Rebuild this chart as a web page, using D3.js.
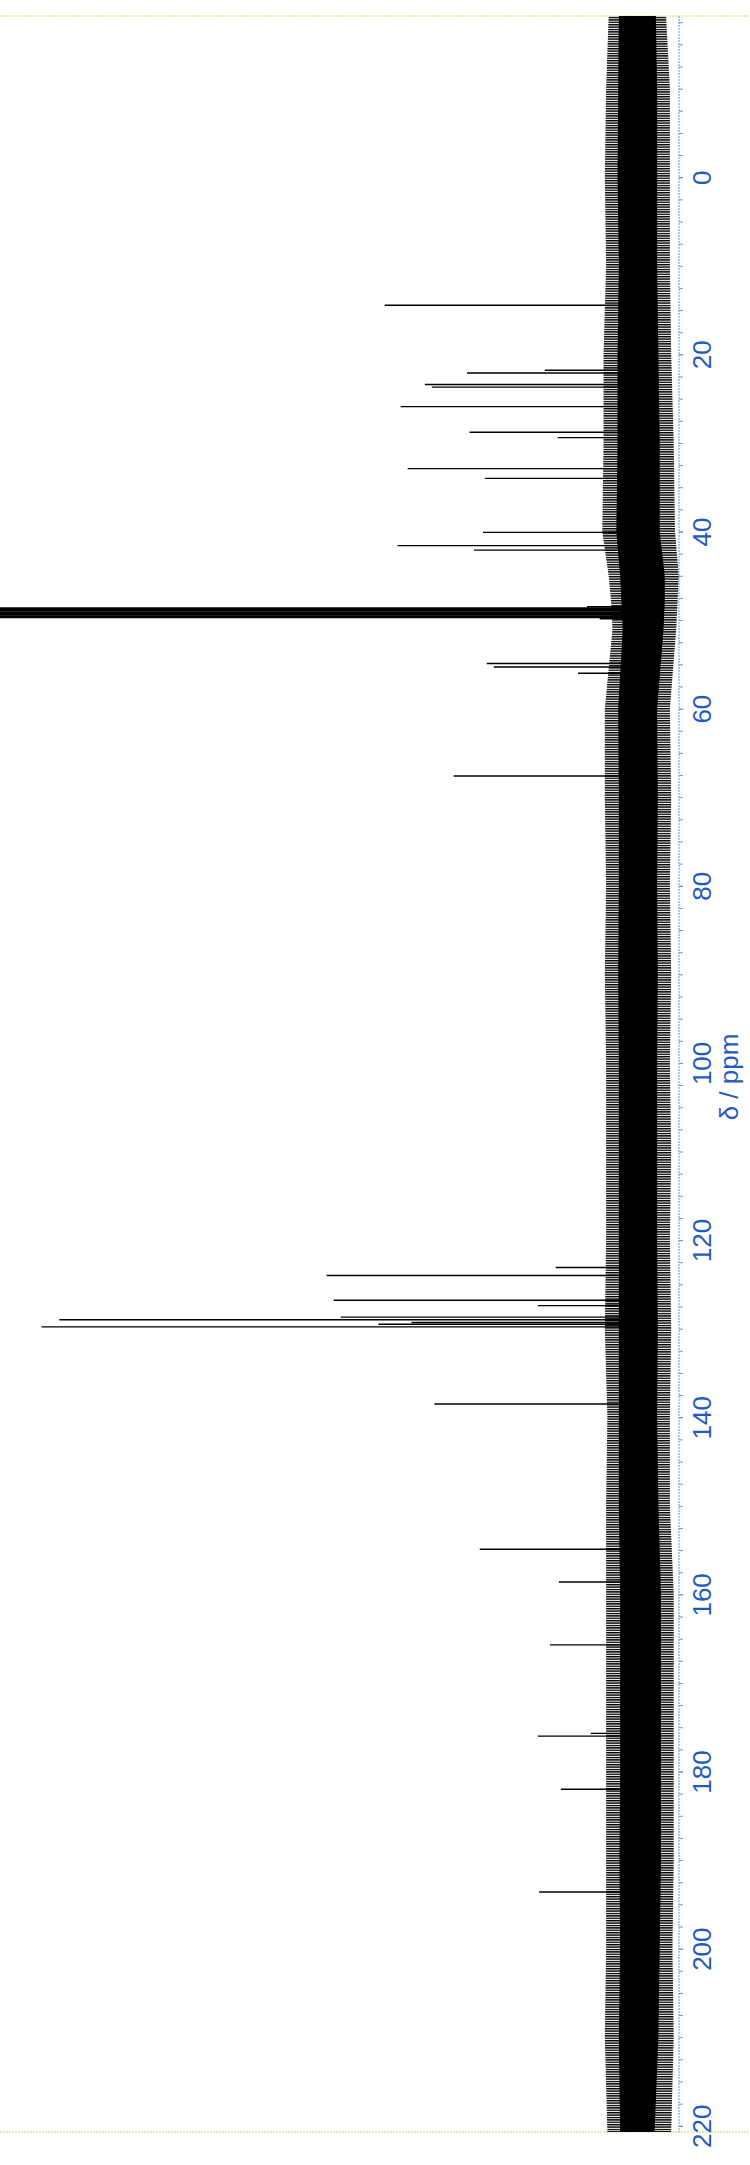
<!DOCTYPE html>
<html>
<head>
<meta charset="utf-8">
<script src="https://cdn.jsdelivr.net/npm/d3@7"></script>
<style>
html,body{margin:0;padding:0;background:#fff;}
svg{display:block;}
</style>
</head>
<body>
<div id="chart"></div>
<script>
// ---- data (chemical shift in ppm, relative intensity) ----
const peakPpm = [14.45, 21.8, 22.1, 23.4, 23.7, 25.9, 28.8, 29.4, 32.9, 34.0, 40.1, 41.6, 42.1,
  54.9, 55.3, 56.0, 67.6, 123.1, 124.0, 126.8, 127.4, 128.7, 129.0, 129.3, 129.5, 129.8,
  138.5, 154.9, 158.6, 165.7, 175.7, 176.0, 182.0, 193.6];
const peakInt = [39.7, 14.6, 26.8, 33.4, 32.3, 37.2, 26.4, 12.6, 36.1, 24.0, 24.3, 37.7, 25.7,
  23.7, 22.6, 9.4, 28.9, 12.9, 48.8, 47.7, 15.7, 46.6, 90.7, 35.5, 40.7, 93.5,
  31.9, 24.8, 12.4, 13.8, 7.4, 15.7, 12.1, 15.5];
// solvent (CD3OD) multiplet, off scale
const solventPpm = [48.5, 48.65, 48.8, 48.95, 49.1, 49.25, 49.4, 49.55, 49.7, 49.85];
const solventInt = [8.0, 120, 120, 120, 120, 120, 120, 120, 120, 6.0];
// noise band envelope
const noisePpm   = [-18.2, -10, 0, 10, 20, 30, 40, 45, 48, 51, 60, 70, 80, 90, 100, 110, 120, 130, 140, 150, 160, 170, 180, 190, 200, 210, 220.7];
const outerLeft  = [4.6, 5.0, 5.2, 5.0, 5.4, 5.4, 5.6, 4.6, 4.2, 4.0, 5.2, 5.2, 5.0, 5.2, 5.0, 5.0, 5.0, 5.2, 4.8, 5.0, 5.0, 5.0, 5.0, 5.0, 5.0, 5.2, 4.8];
const outerRight = [-4.4, -5.0, -5.0, -5.0, -5.2, -5.6, -5.8, -6.4, -6.2, -6.0, -5.0, -5.2, -5.0, -5.2, -5.0, -5.2, -5.0, -5.2, -5.0, -5.0, -5.6, -5.6, -5.6, -5.6, -5.4, -5.6, -5.2];
const coreLeft   = [3.0, 3.1, 3.2, 3.0, 3.2, 3.2, 3.4, 2.8, 2.6, 2.4, 3.1, 3.0, 3.0, 3.1, 3.0, 3.0, 3.0, 3.0, 3.0, 3.0, 2.8, 2.8, 2.8, 2.9, 2.8, 3.0, 2.8];
const coreRight  = [-2.8, -3.0, -3.0, -3.0, -3.2, -3.4, -3.4, -4.2, -4.2, -4.0, -3.0, -3.1, -3.0, -3.1, -3.0, -3.0, -3.0, -3.1, -3.0, -3.2, -3.6, -3.6, -3.6, -3.6, -3.4, -3.2, -2.6];
const majorTicks = [0, 20, 40, 60, 80, 100, 120, 140, 160, 180, 200, 220];
const axisTitle = "δ / ppm";

// ---- layout ----
const W = 750, H = 2165;
const plotTop = 16, plotBottom = 2132;
const axisX = 679;
const blue = "#1f5bbf";

const svg = d3.select("#chart").append("svg").attr("width", W).attr("height", H);
svg.append("rect").attr("width", W).attr("height", H).attr("fill", "#fff");

const defs = svg.append("defs");
defs.append("clipPath").attr("id", "clip").append("rect")
  .attr("x", 0).attr("y", plotTop).attr("width", axisX).attr("height", plotBottom - plotTop);
const pat = defs.append("pattern").attr("id", "hatch")
  .attr("width", 6).attr("height", 2.4).attr("patternUnits", "userSpaceOnUse");
pat.append("rect").attr("width", 6).attr("height", 1.4).attr("fill", "#000");

const y = d3.scaleLinear().domain([-18.2, 220.7]).range([plotTop, plotBottom]);
const x = d3.scaleLinear().domain([0, 100]).range([638, 0]);

// frame lines (top & bottom)
[plotTop, plotBottom].forEach(v => {
  svg.append("line").attr("x1", 0).attr("x2", W).attr("y1", v).attr("y2", v)
    .attr("stroke", "#c9df5e").attr("stroke-width", 1).attr("stroke-dasharray", "2,1");
});

const g = svg.append("g").attr("clip-path", "url(#clip)");

const noise = noisePpm.map((p, i) => ({p, ol: outerLeft[i], or: outerRight[i], cl: coreLeft[i], cr: coreRight[i]}));
g.append("path").datum(noise)
  .attr("d", d3.area().y(d => y(d.p)).x0(d => x(d.ol)).x1(d => x(d.or)).curve(d3.curveLinear))
  .attr("fill", "url(#hatch)");
g.append("path").datum(noise)
  .attr("d", d3.area().y(d => y(d.p)).x0(d => x(d.cl)).x1(d => x(d.cr)).curve(d3.curveLinear))
  .attr("fill", "#000");

const peaks = peakPpm.map((p, i) => ({p, v: peakInt[i]}));
g.selectAll("line.peak").data(peaks).enter().append("line").attr("class", "peak")
  .attr("x1", d => x(0)).attr("x2", d => x(d.v))
  .attr("y1", d => y(d.p)).attr("y2", d => y(d.p))
  .attr("stroke", "#000").attr("stroke-width", 1.4);

const solv = solventPpm.map((p, i) => ({p, v: solventInt[i]}));
g.selectAll("line.solv").data(solv).enter().append("line").attr("class", "solv")
  .attr("x1", d => x(0)).attr("x2", d => x(d.v))
  .attr("y1", d => y(d.p)).attr("y2", d => y(d.p))
  .attr("stroke", "#000").attr("stroke-width", 1.6);

// axis
const minor = d3.range(-17.5, 220.01, 2.5);
const axMinor = d3.axisRight(y).tickValues(minor).tickSize(4).tickFormat("");
const gm = svg.append("g").attr("transform", `translate(${axisX},0)`).call(axMinor);
gm.select(".domain").attr("stroke", "#5b9bd5").attr("stroke-dasharray", "2,1").attr("d", `M0,${plotTop}V${plotBottom}`);
gm.selectAll(".tick line").attr("stroke", "#5b9bd5");

const axMajor = d3.axisRight(y).tickValues(majorTicks).tickSize(4).tickFormat(d3.format("d"));
const ga = svg.append("g").attr("transform", `translate(${axisX},0)`).call(axMajor);
ga.select(".domain").remove();
ga.selectAll(".tick line").attr("stroke", "#5b9bd5");
ga.selectAll(".tick text")
  .attr("x", null).attr("dy", null)
  .attr("transform", "translate(23,0) rotate(-90)")
  .attr("text-anchor", "middle").attr("dy", "0.36em")
  .attr("fill", blue).style("font-family", "'Liberation Sans', Arial, sans-serif").style("font-size", "26px");

svg.append("text").attr("transform", "translate(729,1077) rotate(-90)")
  .attr("text-anchor", "middle").attr("dy", "0.36em")
  .attr("fill", blue).style("font-family", "'Liberation Sans', Arial, sans-serif").style("font-size", "26px")
  .text(axisTitle);
</script>
</body>
</html>
